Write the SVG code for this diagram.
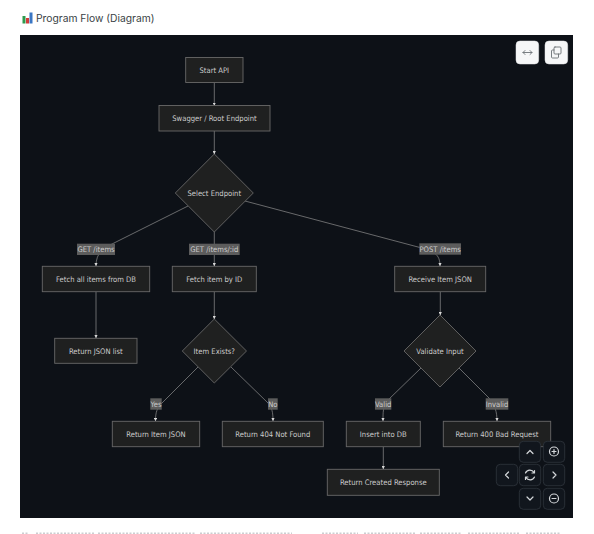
<svg xmlns="http://www.w3.org/2000/svg" width="594" height="534" viewBox="0 0 594 534">
<style>
.n{fill:#1f2020;stroke:#686868;stroke-width:.9}
.t{font-family:"DejaVu Sans","Liberation Sans",sans-serif;font-stretch:condensed;font-size:7.6px;fill:#ccc;text-anchor:middle;dominant-baseline:central}
.e{fill:none;stroke:#8f8f8f;stroke-width:.7;marker-end:url(#a)}
.l{fill:#5c5c5c}
.b{fill:#f6f7f8;stroke:#e4e6e9;stroke-width:.5}
.c{fill:#11161d;stroke:#30363d;stroke-width:.8}
.g{fill:none;stroke:#d4d7da;stroke-width:1.2;stroke-linecap:round;stroke-linejoin:round}
.i{fill:none;stroke:#6b7075;stroke-width:.9;stroke-linecap:round;stroke-linejoin:round}
</style>
<defs><marker id="a" viewBox="0 0 6 6" refX="5.5" refY="3" markerWidth="4.500" markerHeight="4.500" orient="auto"><path d="M0 0L6 3L0 6Z" fill="#d8d8d8"/></marker></defs>
<rect width="594" height="534" fill="#fff"/>
<g id="title">
<rect x="22.500" y="16" width="3" height="7.500" fill="#2f9a4e"/><rect x="26" y="18" width="3" height="5.500" fill="#d23b3b"/><rect x="29.500" y="12.500" width="3" height="11" fill="#3a76c4"/>
<text x="36" y="17.500" font-family="Inter,'Liberation Sans',sans-serif" font-size="10.300" fill="#3a3f45" dominant-baseline="central">Program Flow (Diagram)</text>
</g>
<rect id="panel" x="20" y="35" width="553" height="483" fill="#0d1117"/>
<g id="connectors">
<path class="e" d="M214.300 82.500V105.500"/>
<path class="e" d="M214.300 131V154"/>
<path class="e" d="M188 206L113 243.500C104 248 96 252 96 266"/>
<path class="e" d="M214.300 231.700V266"/>
<path class="e" d="M245 201L418 247C434 251 440 254 440 266"/>
<path class="e" d="M96 291.700V338" stroke-width="1.200"/>
<path class="e" d="M214.300 291.700V319"/>
<path class="e" d="M440.300 291.700V315"/>
<path class="e" d="M198 367L162 403C157 408 155.500 412 155.500 421"/>
<path class="e" d="M231 367L268 403C272 408 273 412 273 421"/>
<path class="e" d="M421 368L387 401C383 407 383 412 383 421"/>
<path class="e" d="M459 368L489 398C495 405 497 412 497 421"/>
<path class="e" d="M383.300 446.700V469"/>
</g>
<g id="edge-labels">
<g><rect class="l" x="77" y="243.700" width="38" height="11.300"/><text class="t" x="96" y="249.300">GET /items</text></g>
<g><rect class="l" x="189" y="243.700" width="50.700" height="11.300"/><text class="t" x="214.300" y="249.300">GET /items/:id</text></g>
<g><rect class="l" x="419.300" y="243.300" width="41.700" height="11.400"/><text class="t" x="440.200" y="249.300">POST /items</text></g>
<g><rect class="l" x="150.300" y="398.300" width="11.400" height="11.400"/><text class="t" x="156" y="404.200">Yes</text></g>
<g><rect class="l" x="268" y="398.300" width="9.700" height="11.400"/><text class="t" x="272.800" y="404.200">No</text></g>
<g><rect class="l" x="375" y="398.300" width="16.300" height="11.400"/><text class="t" x="383.200" y="404.200">Valid</text></g>
<g><rect class="l" x="485.700" y="398.300" width="22.600" height="11.400"/><text class="t" x="497" y="404.200">Invalid</text></g>
</g>
<g id="start"><rect class="n" x="185.700" y="57.500" width="57.300" height="25"/><text class="t" x="214.300" y="70">Start API</text></g>
<g id="swagger"><rect class="n" x="159" y="105.500" width="111" height="25.500"/><text class="t" x="214.500" y="118.300">Swagger / Root Endpoint</text></g>
<g id="select"><path class="n" d="M214.300 154L253.300 193L214.300 232L175.300 193Z"/><text class="t" x="214.300" y="193">Select Endpoint</text></g>
<g id="fetch-all"><rect class="n" x="42.300" y="266.300" width="107.400" height="25.400"/><text class="t" x="96" y="279">Fetch all items from DB</text></g>
<g id="fetch-id"><rect class="n" x="172.300" y="266.300" width="84" height="25.400"/><text class="t" x="214.300" y="279">Fetch item by ID</text></g>
<g id="receive"><rect class="n" x="394.700" y="266.300" width="91" height="25.400"/><text class="t" x="440.200" y="279">Receive Item JSON</text></g>
<g id="json-list"><rect class="n" x="54.700" y="338.300" width="82.300" height="25"/><text class="t" x="95.800" y="351">Return JSON list</text></g>
<g id="exists"><path class="n" d="M214.300 319L246.500 351L214.300 383L182.300 351Z"/><text class="t" x="214.300" y="351">Item Exists?</text></g>
<g id="validate"><path class="n" d="M440 315L476 351L440 387L404 351Z"/><text class="t" x="440" y="351">Validate Input</text></g>
<g id="item-json"><rect class="n" x="112.300" y="421.300" width="87.400" height="25.400"/><text class="t" x="156" y="434">Return Item JSON</text></g>
<g id="not-found"><rect class="n" x="222.300" y="421.300" width="101" height="25.400"/><text class="t" x="272.800" y="434">Return 404 Not Found</text></g>
<g id="insert"><rect class="n" x="346.300" y="421.300" width="74" height="25.400"/><text class="t" x="383.300" y="434">Insert into DB</text></g>
<g id="bad-request"><rect class="n" x="443.300" y="421.300" width="107.400" height="25.400"/><text class="t" x="497" y="434">Return 400 Bad Request</text></g>
<g id="created"><rect class="n" x="327.300" y="469.300" width="112" height="26"/><text class="t" x="383.300" y="482">Return Created Response</text></g>
<g id="toolbar">
<rect class="b" x="516" y="41" width="22.700" height="23" rx="4"/><path class="i" d="M523 52.500H532M525 50.500L523 52.500L525 54.500M530 50.500L532 52.500L530 54.500"/>
<rect class="b" x="545" y="41" width="22.700" height="23" rx="4"/><rect class="i" x="554" y="47" width="7" height="7" rx="1"/><path class="i" d="M554 50H552.500A1 1 0 0 0 551.500 51V57A1 1 0 0 0 552.500 58H557.500A1 1 0 0 0 558.500 57V54"/>
</g>
<g id="controls">
<rect class="c" x="519.300" y="441.300" width="21.400" height="21" rx="4"/><path class="g" d="M527 453.500L530 450.500L533 453.500"/>
<rect class="c" x="543.300" y="441.300" width="21.400" height="21" rx="4"/><circle class="g" cx="554" cy="451.500" r="4.500"/><path class="g" d="M552 451.500H556M554 449.500V453.500"/>
<rect class="c" x="496.300" y="464.300" width="21.400" height="21.400" rx="4"/><path class="g" d="M508.500 472L505.500 475L508.500 478"/>
<rect class="c" x="519.300" y="464.300" width="21.400" height="21.400" rx="4"/><path class="g" d="M525.500 473A4.800 4.800 0 0 1 534 472.500M534.500 477A4.800 4.800 0 0 1 526 477.500M534.500 470.500V473H532M525.500 479.500V477H528"/>
<rect class="c" x="543.300" y="464.300" width="21.400" height="21.400" rx="4"/><path class="g" d="M553 472L556 475L553 478"/>
<rect class="c" x="519.300" y="488.300" width="21.400" height="21" rx="4"/><path class="g" d="M527 497L530 500L533 497"/>
<rect class="c" x="543.300" y="488.300" width="21.400" height="21" rx="4"/><circle class="g" cx="554" cy="498.500" r="4.500"/><path class="g" d="M552 498.500H556"/>
</g>
<path id="clipped-caption" d="M22 533.300H28M36 533.300H94M98 533.300H196M200 533.300H292M322 533.300H358M364 533.300H416M420 533.300H462M468 533.300H520M526 533.300H560" stroke="#9a9ea3" stroke-width="1.400" stroke-dasharray="2 1.500" opacity=".5" fill="none"/>
</svg>
